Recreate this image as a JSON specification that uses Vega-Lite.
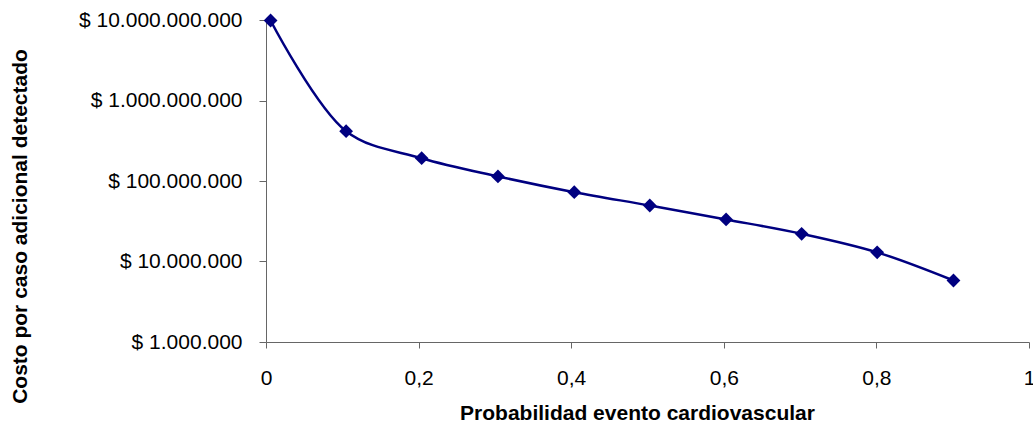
{
  "$schema": "https://vega.github.io/schema/vega-lite/v6.json",
  "autosize": "none",
  "width": 763,
  "height": 322,
  "padding": {"left": 266, "top": 20, "right": 4, "bottom": 86},
  "background": "white",
  "config": {
    "locale": {"number": {"decimal": ",", "thousands": ".", "grouping": [3], "currency": ["$ ", ""]}},
    "view": {"stroke": null},
    "font": "Liberation Sans",
    "axis": {
      "labelFont": "Liberation Sans",
      "titleFont": "Liberation Sans",
      "labelFontSize": 21,
      "labelColor": "#000000",
      "titleFontSize": 21,
      "titleFontWeight": "bold",
      "titleColor": "#000000",
      "domainColor": "#666666",
      "tickColor": "#666666",
      "grid": false
    }
  },
  "data": {
    "values": [
      {"p": 0.006, "costo": 9860000000},
      {"p": 0.105, "costo": 416000000},
      {"p": 0.204, "costo": 192000000},
      {"p": 0.304, "costo": 114000000},
      {"p": 0.404, "costo": 72600000},
      {"p": 0.503, "costo": 49600000},
      {"p": 0.603, "costo": 33300000},
      {"p": 0.702, "costo": 22100000},
      {"p": 0.801, "costo": 13000000},
      {"p": 0.901, "costo": 5810000}
    ]
  },
  "encoding": {
    "x": {
      "field": "p",
      "type": "quantitative",
      "scale": {"domain": [0, 1], "nice": false, "zero": false},
      "axis": {
        "title": "Probabilidad evento cardiovascular",
        "values": [0, 0.2, 0.4, 0.6, 0.8, 1],
        "format": ".1~f",
        "tickSize": 6,
        "labelPadding": 19,
        "labelFlush": false,
        "titleX": 371,
        "titleY": 77,
        "titleAlign": "center",
        "titleBaseline": "alphabetic"
      }
    },
    "y": {
      "field": "costo",
      "type": "quantitative",
      "scale": {"type": "log", "domain": [1000000, 10000000000], "nice": false},
      "axis": {
        "title": "Costo por caso adicional detectado",
        "values": [1000000, 10000000, 100000000, 1000000000, 10000000000],
        "format": "$,.0f",
        "tickSize": 7,
        "labelPadding": 17,
        "labelBaseline": "middle",
        "titleX": -246,
        "titleY": 206,
        "titleAngle": -90,
        "titleAlign": "center",
        "titleBaseline": "middle"
      }
    }
  },
  "layer": [
    {
      "mark": {"type": "line", "interpolate": "catmull-rom", "color": "#000080", "strokeWidth": 2.5, "clip": false}
    },
    {
      "mark": {"type": "point", "shape": "diamond", "filled": true, "color": "#000080", "opacity": 1, "size": 190, "clip": false}
    }
  ]
}
